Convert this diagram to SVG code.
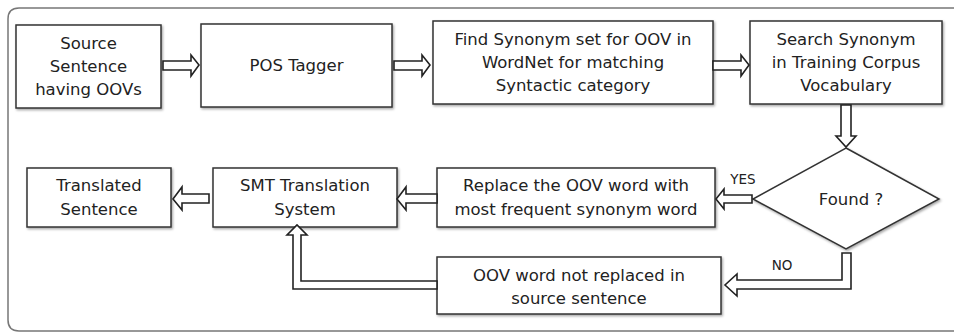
<svg xmlns="http://www.w3.org/2000/svg" width="954" height="333" viewBox="0 0 954 333">
<defs>
<filter id="sh" x="-5%" y="-5%" width="115%" height="120%">
<feDropShadow dx="1.2" dy="1.5" stdDeviation="1" flood-color="#000" flood-opacity="0.35"/>
</filter>
</defs>
<style>
.box{fill:#fff;stroke:#333;stroke-width:1.5;filter:url(#sh)}
.arr{fill:#fff;stroke:#222;stroke-width:1.6;stroke-linejoin:miter}
text{font-family:"DejaVu Sans","Verdana",sans-serif;font-size:16.5px;fill:#222;text-anchor:middle}
.lbl{font-size:13.5px}
</style>
<rect width="954" height="333" fill="#fff"/>
<path d="M 954 8 H 19 Q 8 8 8 19 V 320 Q 8 331 19 331 H 954" fill="none" stroke="#777" stroke-width="1.5"/>

<g id="n1"><rect class="box" x="16" y="25" width="145" height="83"/>
<text x="88.5" y="49">Source</text><text x="88.5" y="72">Sentence</text><text x="88.5" y="95">having OOVs</text></g>
<g id="n2"><rect class="box" x="201" y="24" width="191" height="83"/>
<text x="296.5" y="71">POS Tagger</text></g>
<g id="n3"><rect class="box" x="433" y="21" width="280" height="83"/>
<text x="573" y="45">Find Synonym set for OOV in</text><text x="573" y="68">WordNet for matching</text><text x="573" y="91">Syntactic category</text></g>
<g id="n4"><rect class="box" x="750" y="21" width="192" height="83"/>
<text x="846" y="45">Search Synonym</text><text x="846" y="68">in Training Corpus</text><text x="846" y="91">Vocabulary</text></g>
<g id="n5"><polygon class="box" points="846,148 939,199 846,249 753,199"/>
<text x="851" y="205">Found ?</text></g>
<g id="n6"><rect class="box" x="437" y="168" width="278" height="59"/>
<text x="576" y="191">Replace the OOV word with</text><text x="576" y="215">most frequent synonym word</text></g>
<g id="n7"><rect class="box" x="213" y="168" width="184" height="59"/>
<text x="305" y="191">SMT Translation</text><text x="305" y="215">System</text></g>
<g id="n8"><rect class="box" x="27" y="168" width="144" height="59"/>
<text x="99" y="191">Translated</text><text x="99" y="215">Sentence</text></g>
<g id="n9"><rect class="box" x="437" y="257" width="284" height="57"/>
<text x="579" y="281">OOV word not replaced in</text><text x="579" y="304">source sentence</text></g>

<g id="connectors">
<polygon class="arr" points="163,61 191,61 191,55 199,65 191,76 191,70 163,70"/>
<polygon class="arr" points="394,61 422,61 422,55 430,65 422,76 422,70 394,70"/>
<polygon class="arr" points="713,61 741,61 741,55 749,65 741,76 741,70 713,70"/>
<polygon class="arr" points="841,105 851,105 851,136 856,136 846,147 836,136 841,136"/>
<polygon class="arr" points="752,195 724,195 724,189 716,199 724,209 724,203 752,203"/>
<polygon class="arr" points="437,194 406,194 406,187 397,199 406,210 406,203 437,203"/>
<polygon class="arr" points="209,194 182,194 182,187 173,199 182,210 182,203 209,203"/>
<polygon class="arr" points="851,253 851,289 737,289 737,296 725,285 737,274 737,280 842,280 842,253"/>
<polygon class="arr" points="437,289 293,289 293,235 287,235 297,225 307,235 301,235 301,281 437,281"/>
<text class="lbl" x="743" y="184">YES</text>
<text class="lbl" x="782" y="270">NO</text>
</g>
</svg>
